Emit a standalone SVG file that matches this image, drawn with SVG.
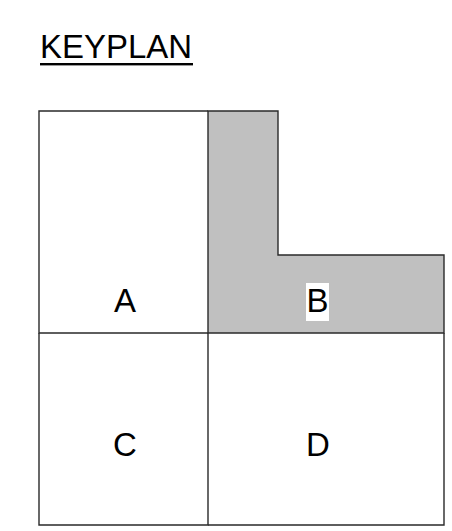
<svg xmlns="http://www.w3.org/2000/svg" width="452" height="531" viewBox="0 0 452 531">
<style>
.ln{fill:none;stroke:#2a2a2a;stroke-width:1.4}
.shade{fill:#c0c0c0;stroke:#2a2a2a;stroke-width:1.4}
.lbl{font-family:"Liberation Sans",Arial,sans-serif;font-size:33px;fill:#000;text-anchor:middle}
</style>
<rect width="452" height="531" fill="#fff"/>
<g id="title">
<text x="40" y="58" font-family="Liberation Sans,Arial,sans-serif" font-size="33" fill="#000" textLength="152" lengthAdjust="spacingAndGlyphs">KEYPLAN</text>
<rect x="40" y="63" width="153" height="2.4" fill="#000"/>
</g>
<g id="B">
<path d="M208 111 H278 V255 H444 V333 H208 Z" class="shade"/>
<rect x="306" y="283" width="23" height="38" fill="#fff"/>
<text class="lbl" x="317.5" y="312">B</text>
</g>
<g id="A">
<path d="M208 111 H39 V333 H208" class="ln"/>
<text class="lbl" x="125" y="312">A</text>
</g>
<g id="C">
<path d="M39 333 V525 H208 V333" class="ln"/>
<text class="lbl" x="125" y="456">C</text>
</g>
<g id="D">
<path d="M208 525 H444 V333" class="ln"/>
<text class="lbl" x="318" y="456">D</text>
</g>
</svg>
